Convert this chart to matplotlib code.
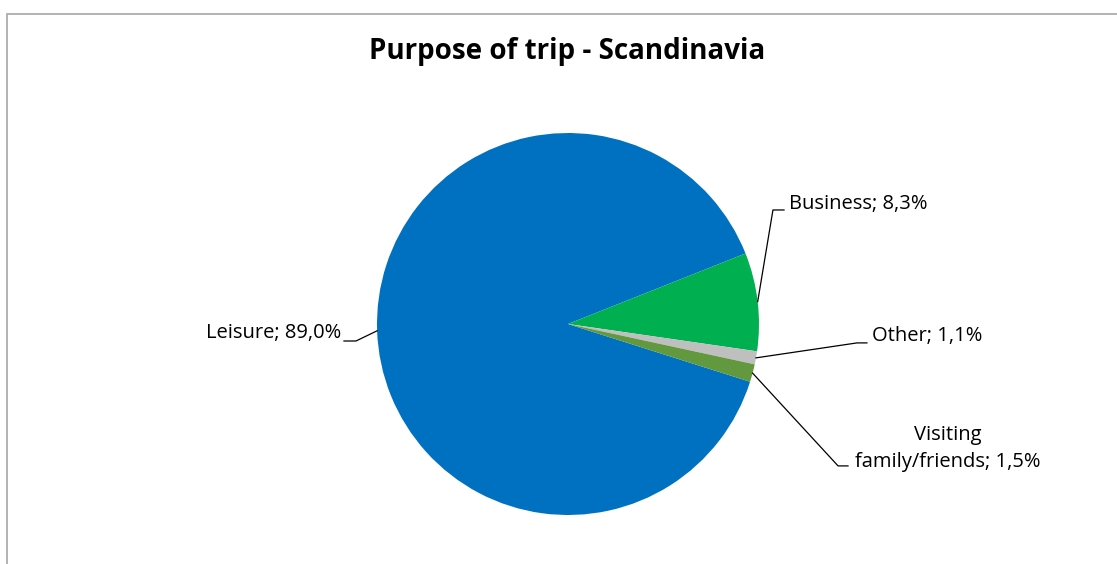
import numpy as np
import matplotlib.pyplot as plt
from matplotlib.patches import Rectangle

# Data
categories = ['Leisure', 'Business', 'Other', 'Visiting\nfamily/friends']
shares = [89.0, 8.3, 1.1, 1.5]
colors = ['#0070C0', '#00B050', '#BFBFBF', '#62993E']
labels = ['Leisure; 89,0%', 'Business; 8,3%', 'Other; 1,1%', 'Visiting\nfamily/friends; 1,5%']

# label layout (data units, pie radius = 1): elbow, line end, text pos, ha
layout = [
    ((-1.110, -0.089), (-1.173, -0.089), (-1.188, -0.045), 'right'),
    ((1.073, 0.597), (1.131, 0.597), (1.157, 0.628), 'left'),
    ((1.513, -0.099), (1.565, -0.099), (1.592, -0.063), 'left'),
    ((1.414, -0.743), (1.466, -0.743), (1.990, -0.652), 'center'),
]

plt.rcParams['font.family'] = ['Open Sans', 'DejaVu Sans']

fig = plt.figure(figsize=(11.17, 5.64), dpi=100)
ax = fig.add_axes([0, 0, 1, 1])
ax.axis('off')

wedges, _ = ax.pie(shares, colors=colors, startangle=-17.6, counterclock=False,
                   radius=1, center=(0, 0), frame=False)
ax.set_xlim(-568 / 191, (1117 - 568) / 191)
ax.set_ylim((324 - 564) / 191, 324 / 191)
ax.set_aspect('auto')

for w, lab, (elbow, end, tpos, ha) in zip(wedges, labels, layout):
    mid = np.deg2rad((w.theta1 + w.theta2) / 2)
    sx, sy = np.cos(mid), np.sin(mid)
    ax.plot([sx, elbow[0], end[0]], [sy, elbow[1], end[1]], color='black', lw=0.9)
    ax.text(tpos[0], tpos[1], lab, ha=ha, va='center', fontsize=14.5,
            multialignment='center', linespacing=1.42, color='black')

fig.text(0.5076, 1 - 51 / 564, 'Purpose of trip - Scandinavia', ha='center', va='center',
         fontsize=20, fontweight='bold')

# chart border (only top and left visible)
fig.add_artist(Rectangle((7 / 1117, -0.2), 1.5, 1.2 - 13.5 / 564, transform=fig.transFigure,
                         fill=False, edgecolor='#ADADAD', lw=1.3))

fig.savefig('out.png', dpi=100)
